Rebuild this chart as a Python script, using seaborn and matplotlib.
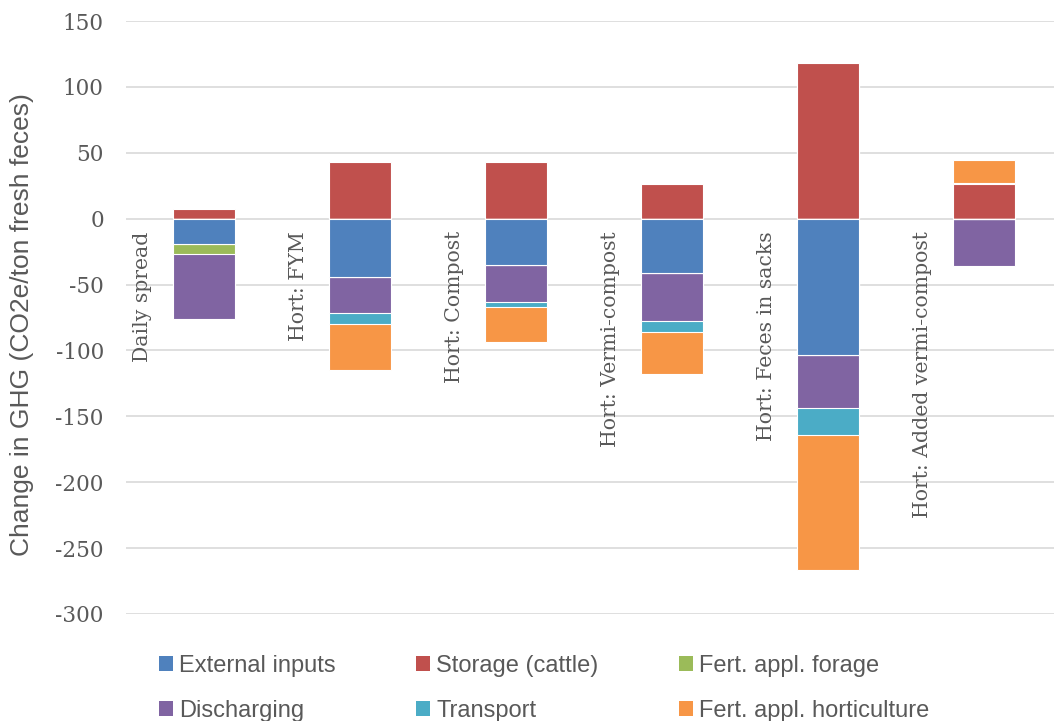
import numpy as np
import pandas as pd
import matplotlib
matplotlib.use("Agg")
import matplotlib.pyplot as plt
from matplotlib.patches import Patch
import seaborn as sns

# Scenarios (x categories)
categories = ["Daily spread", "Hort: FYM", "Hort: Compost", "Hort: Vermi-compost",
              "Hort: Feces in sacks", "Hort: Added vermi-compost"]

# Emission components, kg CO2e per ton fresh feces
external_inputs = [-19.0, -44.0, -35.0, -41.0, -103.3, 0.0]
storage_cattle = [7.0, 43.0, 43.0, 26.0, 118.5, 26.0]
fert_forage = [-8.0, 0.0, 0.0, 0.0, 0.0, 0.0]
discharging = [-49.0, -27.5, -28.0, -37.0, -40.0, -36.0]
transport = [0.0, -8.8, -4.4, -8.0, -20.5, 1.0]
fert_horticulture = [0.0, -34.7, -26.0, -32.0, -102.7, 17.5]

series_names = ["External inputs", "Storage (cattle)", "Fert. appl. forage",
                "Discharging", "Transport", "Fert. appl. horticulture"]
series_values = [external_inputs, storage_cattle, fert_forage,
                 discharging, transport, fert_horticulture]
series_colors = ["#4F81BD", "#C0504D", "#9BBB59", "#8064A2", "#4BACC6", "#F79646"]

sns.set_theme(style="white")
serif = ["DejaVu Serif"]
sans = ["Liberation Sans", "DejaVu Sans"]

fig = plt.figure(figsize=(10.54, 7.21), dpi=100)
ax = fig.add_axes([126 / 1054, 1 - 614 / 721, 1 - 126 / 1054, (614 - 21) / 721])

# Stack positives upward and negatives downward, in series order.
vals = np.array(series_values, dtype=float)
pos_cum = np.cumsum(np.clip(vals, 0, None), axis=0)
neg_cum = np.cumsum(np.clip(vals, None, 0), axis=0)

# Draw outermost cumulative bars first so inner segments overlay them.
for cum in (pos_cum, neg_cum):
    for i in range(len(series_names) - 1, -1, -1):
        if np.allclose(vals[i], 0):
            continue
        df = pd.DataFrame({"scenario": categories, "value": cum[i]})
        sns.barplot(data=df, x="scenario", y="value", order=categories,
                    color=series_colors[i], saturation=1, width=0.4,
                    edgecolor="white", linewidth=0.8, ax=ax, zorder=3)

ax.set_ylim(-300, 150)
ax.set_xlim(-0.5, 5.5 - 8 / 156)
ax.set_yticks(np.arange(-300, 151, 50))
ax.set_yticklabels([f"{t:d}" for t in range(-300, 151, 50)], family=serif,
                   fontsize=15.5, color="#595959")
ax.tick_params(axis="y", length=0, pad=16)
ax.set_xticks([])
ax.set_xlabel("")
ax.set_ylabel("")
ax.grid(axis="y", color="#D9D9D9", linewidth=1.2, zorder=0)
ax.set_axisbelow(True)
for s in ax.spines.values():
    s.set_visible(False)

# Scenario names, rotated, hanging just below the zero line
for i, name in enumerate(categories):
    ax.text(i - 0.395, -9.5, name, rotation=90, ha="center", va="top",
            family=serif, fontsize=14.7, color="#595959", zorder=4)

fig.text(22 / 1054, 1 - 325 / 721, "Change in GHG (CO2e/ton fresh feces)",
         rotation=90, ha="center", va="center", family=sans, fontsize=19,
         color="#595959")

handles = [Patch(facecolor=c, edgecolor="none") for c in series_colors]
order = [0, 3, 1, 4, 2, 5]
leg = fig.legend([handles[k] for k in order], [series_names[k] for k in order],
                 ncol=3, loc="upper left", bbox_to_anchor=(159 / 1054, 1 - 655 / 721),
                 frameon=False, borderpad=0, borderaxespad=0,
                 handlelength=0.6, handleheight=0.6, handletextpad=0.25,
                 columnspacing=3.4, labelspacing=0.97,
                 prop={"family": sans, "size": 17})
for t in leg.get_texts():
    t.set_color("#595959")

fig.savefig("out.png", dpi=100, facecolor="white")
